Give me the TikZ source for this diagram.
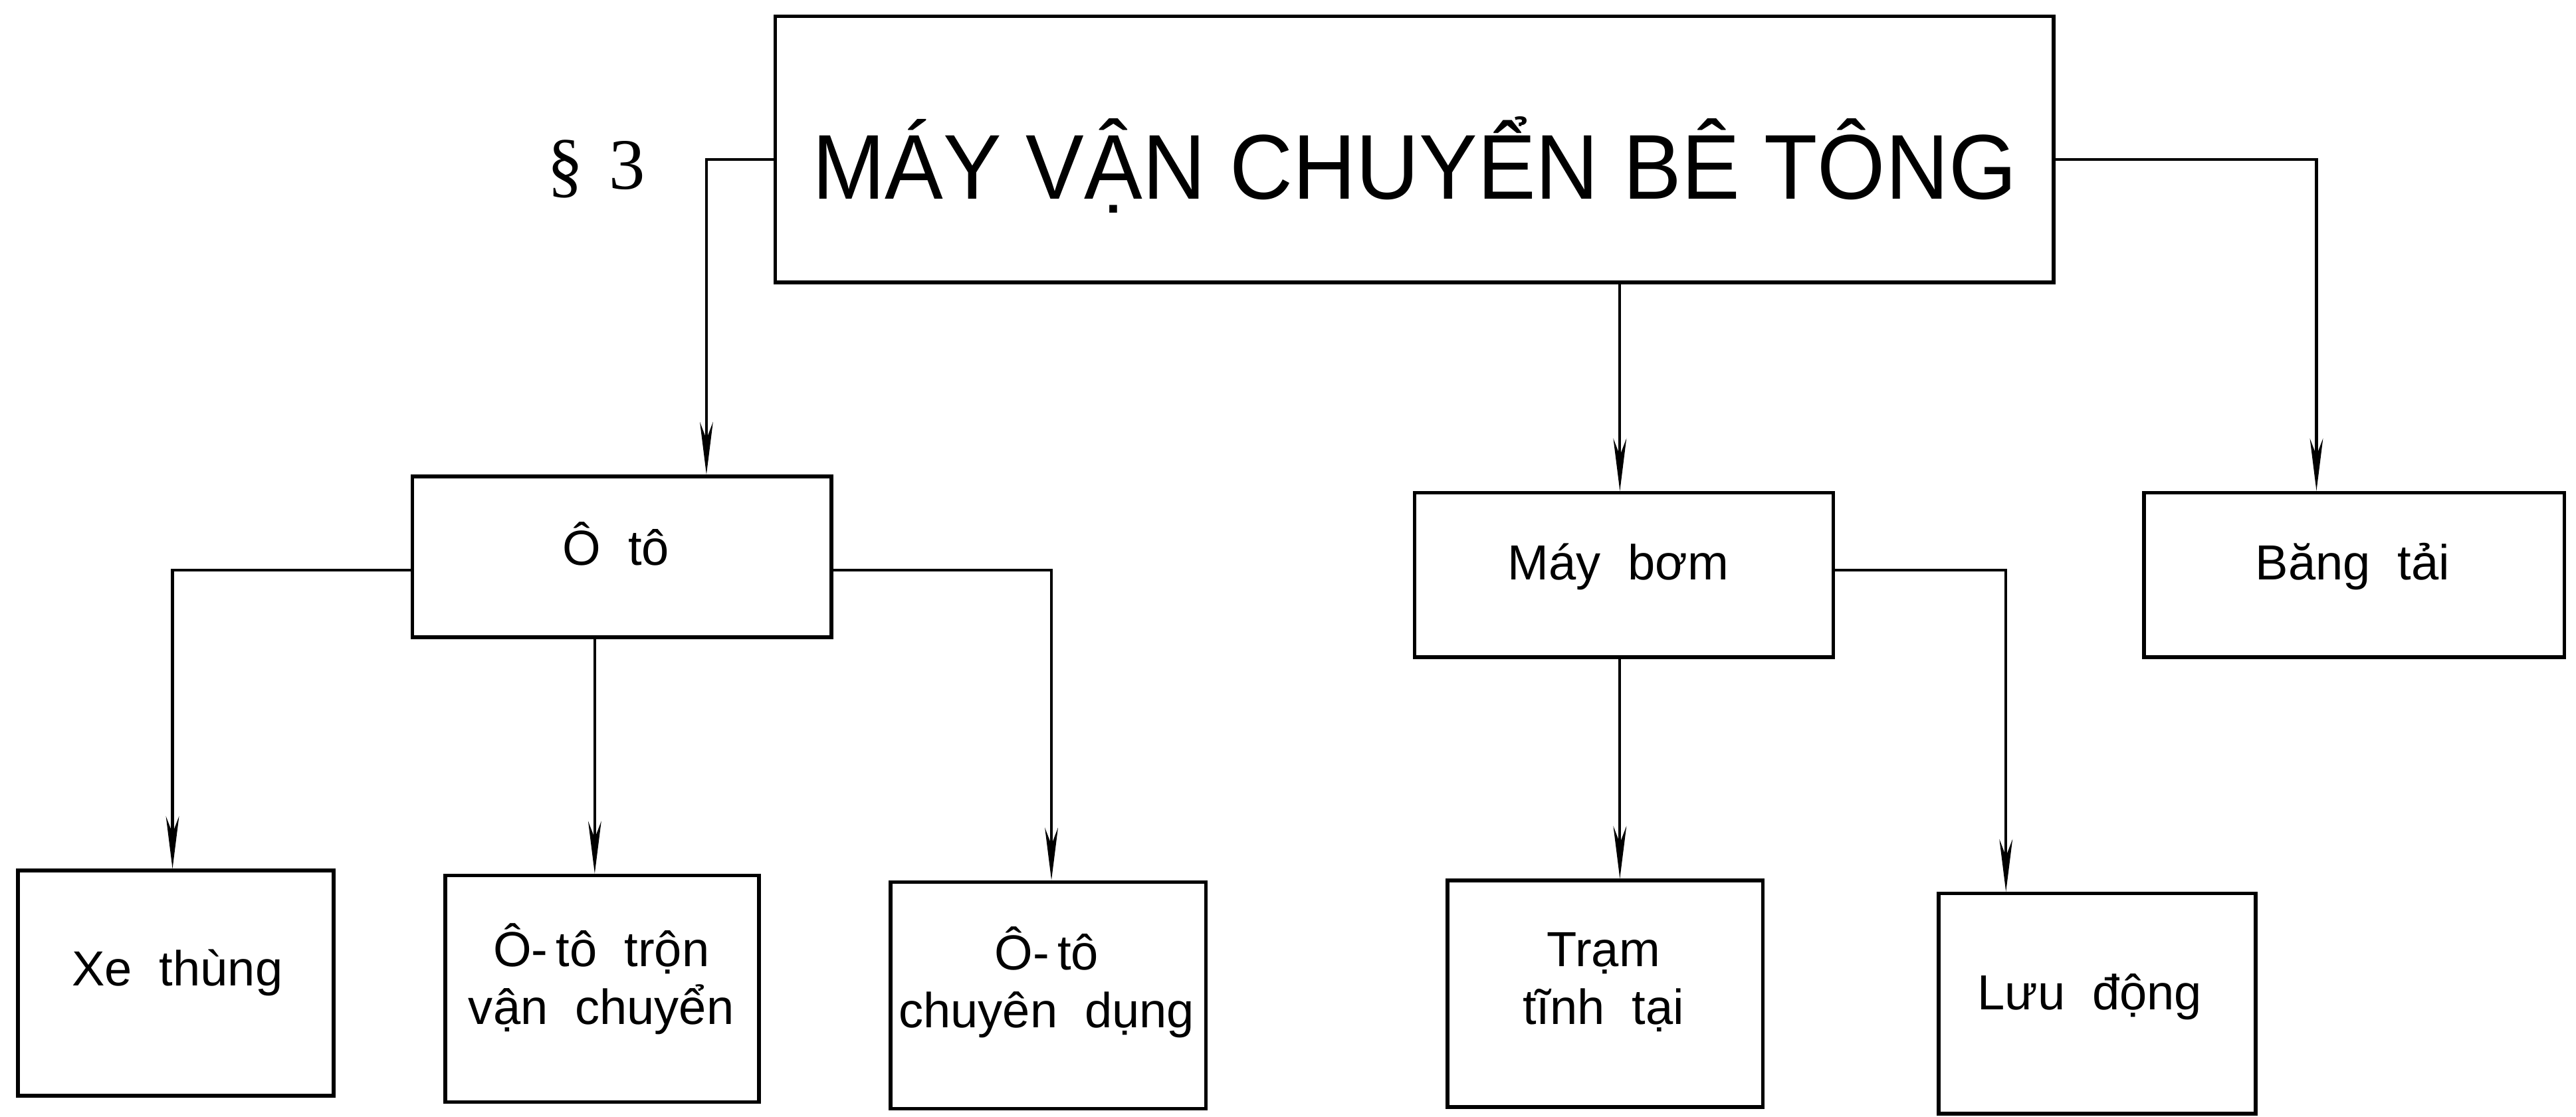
\documentclass[tikz,border=0pt]{standalone}
\usepackage{graphicx}
\usepackage{fontspec}
\setmainfont{Liberation Sans}
\newfontfamily\serifnum{Liberation Serif}
\usetikzlibrary{arrows.meta}
\newcommand\widespacing{\spaceskip=0.55em\relax}
\begin{document}
\begin{tikzpicture}[x=1pt,y=-1pt,
  box/.style={draw, line width=2.2pt, inner sep=0pt},
  lbl/.style={font=\fontsize{30}{35}\selectfont, align=center, inner sep=0pt, execute at begin node=\widespacing},
  arr/.style={line width=1.7pt, -{Stealth[length=32pt,width=8pt]}}]
\useasboundingbox (0,0) rectangle (1568,680);

% main box and title
\node[box, minimum width=778pt, minimum height=162pt] (main) at (861,91) {};
\node[font=\fontsize{56}{60}\selectfont, anchor=base, inner sep=0pt] (title) at (861,121) {\scalebox{0.95}[1]{MÁY VẬN CHUYỂN BÊ TÔNG}};
\node[font=\serifnum\fontsize{44}{48}\selectfont, inner sep=0pt] (sec) at (363,103) {§\hspace{0.35em}3};

% second level
\node[box, minimum width=255pt, minimum height=98pt] (oto) at (378.5,339) {};
\node[lbl] (otoT) at (375,331) {Ô tô};
\node[box, minimum width=255pt, minimum height=100pt] (pump) at (988.5,350) {};
\node[lbl] (pumpT) at (985,345) {Máy bơm};
\node[box, minimum width=256pt, minimum height=100pt] (belt) at (1433,350) {};
\node[lbl] (beltT) at (1432,345) {Băng tải};

% third level
\node[box, minimum width=192pt, minimum height=137pt] (xe) at (107,598.5) {};
\node[lbl] (xeT) at (108,592) {Xe thùng};
\node[box, minimum width=191pt, minimum height=138pt] (tron) at (366.5,602) {};
\node[lbl] (tronT) at (366,596) {Ô-\,tô trộn\\vận chuyển};
\node[box, minimum width=192pt, minimum height=138pt] (cd) at (638,606) {};
\node[lbl] (cdT) at (637,598) {Ô-\,tô\\chuyên dụng};
\node[box, minimum width=192pt, minimum height=138pt] (tram) at (977,605) {};
\node[lbl] (tramT) at (976,598) {Trạm\\tĩnh tại};
\node[box, minimum width=193pt, minimum height=134pt] (luu) at (1276.5,611) {};
\node[lbl] (luuT) at (1272,607) {Lưu động};

% connectors
\coordinate (k1) at (430,97);
\coordinate (k2) at (986,0);
\coordinate (k3) at (1410,97);
\coordinate (k4) at (105,347);
\coordinate (k5) at (362,0);
\coordinate (k6) at (640,347);
\coordinate (k8) at (1221,347);
\draw[arr] (main.west |- k1) -| (k1 |- oto.north);
\draw[arr] (main.south -| k2) -- (k2 |- pump.north);
\draw[arr] (main.east |- k3) -| (k3 |- belt.north);
\draw[arr] (oto.west |- k4) -| (k4 |- xe.north);
\draw[arr] (oto.south -| k5) -- (k5 |- tron.north);
\draw[arr] (oto.east |- k6) -| (k6 |- cd.north);
\draw[arr] (pump.south -| k2) -- (k2 |- tram.north);
\draw[arr] (pump.east |- k8) -| (k8 |- luu.north);
\end{tikzpicture}
\end{document}
